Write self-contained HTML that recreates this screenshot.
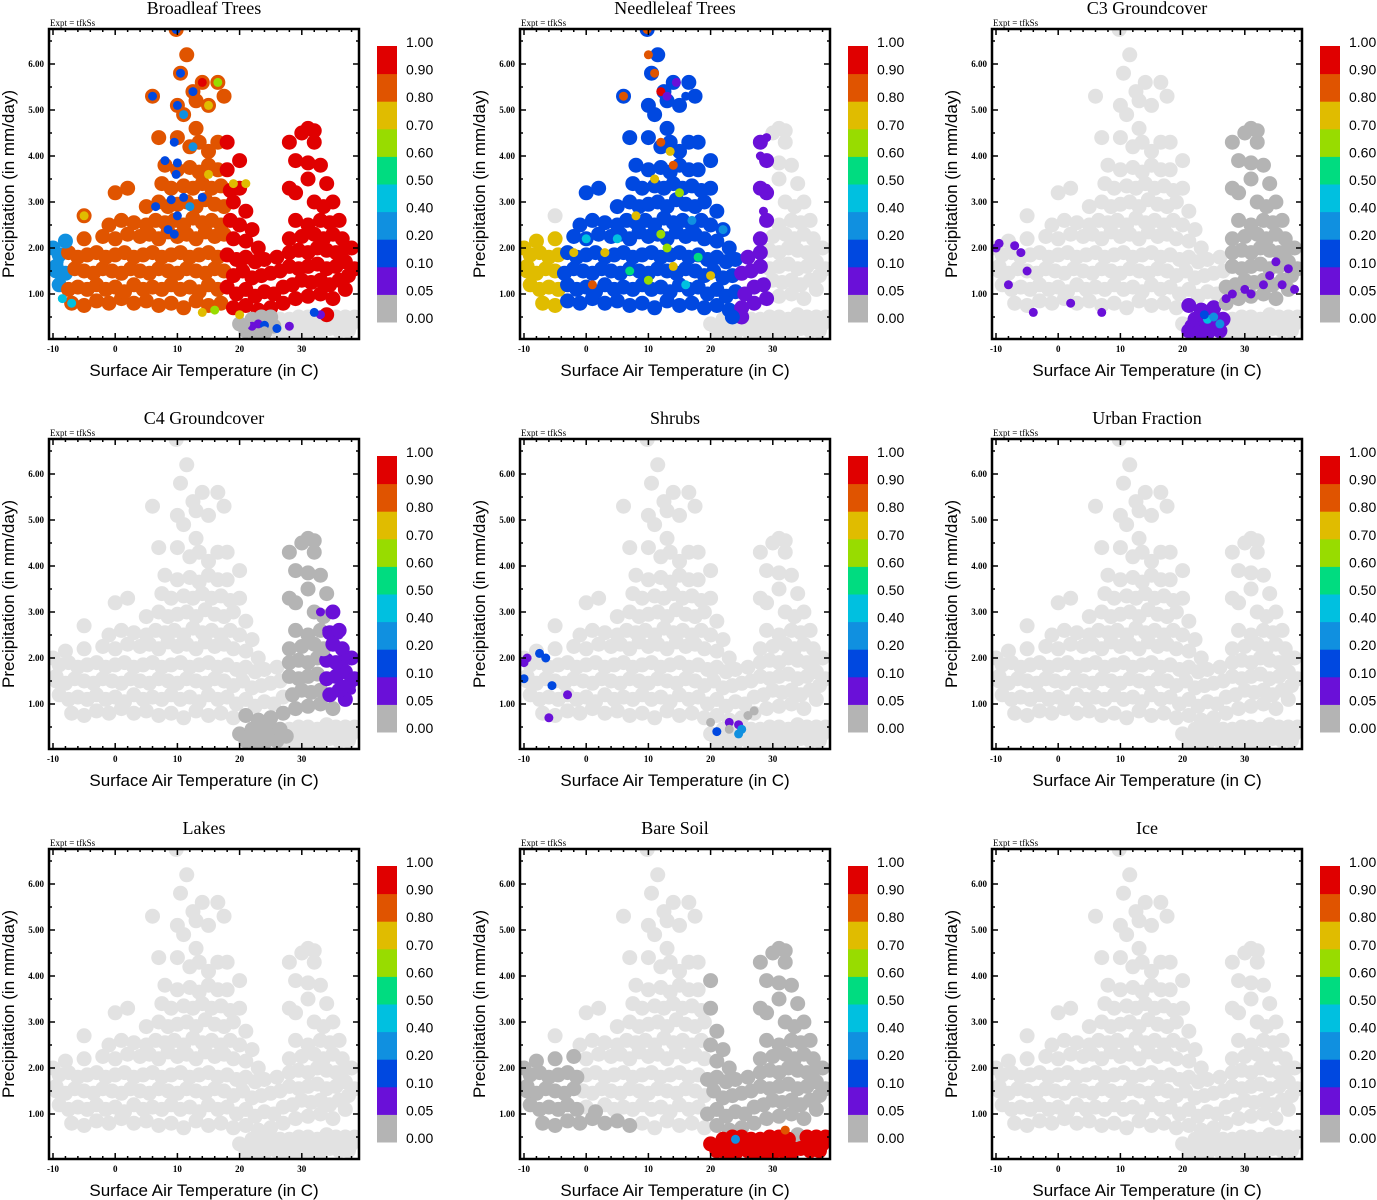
<!DOCTYPE html>
<html><head><meta charset="utf-8"><style>
body{margin:0;background:#fff}
svg{display:block}
.tk{font-family:"Liberation Serif",serif;font-weight:bold;font-size:9px}
.ttl{font-family:"Liberation Serif",serif;font-size:18px}
.ax{font-family:"Liberation Sans",sans-serif;font-size:17px}
.cb{font-family:"Liberation Sans",sans-serif;font-size:14px}
.ex{font-family:"Liberation Serif",serif;font-size:9px}
</style></head><body>
<svg id="chart" width="1377" height="1200" viewBox="0 0 1377 1200"></svg>
<script>
const panelTitles=["Broadleaf Trees","Needleleaf Trees","C3 Groundcover","C4 Groundcover","Shrubs","Urban Fraction","Lakes","Bare Soil","Ice"];
const xTicks=[-10,0,10,20,30];
const yTicks=[1,2,3,4,5,6];
const cbLabels=["0.00","0.05","0.10","0.20","0.40","0.50","0.60","0.70","0.80","0.90","1.00"];
const cbColors=["#b4b4b4","#6a10d8","#0048e0","#1090e0","#00c0e0","#00dc80","#98dc00","#e0bc00","#e05400","#e00000"];
const cbEdges=[0,0.05,0.1,0.2,0.4,0.5,0.6,0.7,0.8,0.9,1.0001];
const cloud=[
[-7,0.8],[-5,0.75],[-3,0.85],[-1,0.8],[1,0.9],[3,0.8],[5,0.85],[7,0.75],[9,0.8],[11,0.7],[13,0.85],[15,0.75],[17,0.8],[19,0.7],[21,0.75],[23,0.65],[25,0.7],[27,0.8],[29,0.9],[31,0.95],[33,1.0],[35,0.9],[37,1.1],
[-9,1.2],[-7.5,1.1],[-6,1.15],[-4.5,1.1],[-3,1.2],[-1.5,1.1],[0,1.15],[1.5,1.05],[3,1.2],[4.5,1.1],[6,1.15],[7.5,1.1],[9,1.2],[10.5,1.1],[12,1.15],[13.5,1.05],[15,1.2],[16.5,1.1],[18,1.15],[19.5,1.0],[21,1.1],[22.5,0.95],[24,1.05],[25.5,1.0],[27,1.15],[28.5,1.2],[30,1.3],[31.5,1.25],[33,1.3],[34.5,1.2],[36,1.3],[37.5,1.4],
[-9.5,1.5],[-8,1.45],[-6.5,1.55],[-5,1.5],[-3.5,1.45],[-2,1.55],[-0.5,1.5],[1,1.45],[2.5,1.55],[4,1.5],[5.5,1.45],[7,1.55],[8.5,1.5],[10,1.45],[11.5,1.55],[13,1.5],[14.5,1.45],[16,1.55],[17.5,1.5],[19,1.4],[20.5,1.5],[22,1.35],[23.5,1.4],[25,1.45],[26.5,1.5],[28,1.6],[29.5,1.55],[31,1.6],[32.5,1.65],[34,1.55],[35.5,1.6],[37,1.7],[38.5,1.55],
[-9,1.85],[-7.5,1.9],[-6,1.8],[-4.5,1.85],[-3,1.9],[-1.5,1.8],[0,1.85],[1.5,1.9],[3,1.8],[4.5,1.85],[6,1.9],[7.5,1.8],[9,1.85],[10.5,1.9],[12,1.8],[13.5,1.85],[15,1.9],[16.5,1.8],[18,1.85],[19.5,1.75],[21,1.8],[22.5,1.7],[24,1.75],[26,1.8],[28,1.9],[29.5,1.95],[31,1.9],[32.5,2.0],[34,1.95],[35.5,1.9],[37,2.0],
[-8,2.15],[-5,2.2],[-2,2.25],[0,2.2],[2,2.3],[4,2.25],[5.5,2.3],[7,2.2],[8.5,2.35],[10,2.25],[11.5,2.3],[13,2.2],[14.5,2.35],[16,2.25],[17.5,2.3],[19,2.2],[21,2.15],[23,2.0],[28,2.2],[30,2.25],[32,2.3],[33.5,2.2],[35,2.3],[36.5,2.2],[38,2.0],
[-1,2.5],[1,2.6],[3,2.55],[5,2.5],[6.5,2.6],[8,2.55],[9.5,2.6],[11,2.5],[12.5,2.65],[14,2.55],[15.5,2.6],[17,2.5],[18.5,2.6],[20,2.5],[22,2.4],[29,2.6],[31,2.5],[33,2.6],[34.5,2.55],[36,2.6],
[0,3.2],[2,3.3],[5,2.9],[7,3.0],[8.5,2.9],[10,2.95],[11.5,3.0],[13,2.9],[14.5,3.05],[16,2.95],[17.5,2.9],[19,3.0],[21,2.8],[29,3.2],[32,3.0],[33.5,2.9],[35,3.0],
[7.5,3.4],[9,3.3],[11,3.35],[12.5,3.3],[14,3.4],[15.5,3.3],[17,3.35],[18.5,3.25],[20,3.3],[28,3.3],[31,3.5],[34,3.4],
[8,3.8],[10,3.7],[12,3.75],[13.5,3.65],[15,3.8],[16.5,3.7],[18,3.7],[20,3.9],[29,3.9],[31,3.85],[33,3.8],
[7,4.4],[10,4.4],[12,4.2],[13.5,4.3],[15,4.1],[16.5,4.3],[18,4.3],[28,4.3],[30,4.5],[32,4.3],
[9.8,6.75],[11.5,6.2],[10.5,5.8],[14,5.6],[16.5,5.6],[17.5,5.3],[6,5.3],[12.5,5.4],[13,5.2],[15,5.1],[10,5.1],[11,4.9],[13,4.6],[31,4.6],[32,4.55],[-5,2.7],[-9.5,1.6],[-10,2.0],
[20,0.35],[21.5,0.3],[23,0.25],[24.5,0.35],[26,0.2],[27.5,0.3],[29,0.25],[30.5,0.35],[32,0.3],[33.5,0.4],[35,0.3],[36.5,0.45],[38,0.35],[22,0.45],[25,0.5],[28,0.45],[31,0.5],[34,0.55],[37,0.5],[24,0.15],[27,0.12],[30,0.15],[33,0.15],[36,0.2],
[21,0.2],[22.5,0.15],[25.5,0.3],[28.5,0.15],[31.5,0.2],[34.5,0.25],[37.5,0.2],[23.5,0.5],[26.5,0.45],[29.5,0.5],[32.5,0.45],[35.5,0.5],[38.5,0.5]
];
// zones: [tMin,tMax,pMin,pMax,fraction] (null = absent)
const zones1=[[-11,-7.5,0.5,2.6,0.3],[19.5,26,0,0.55,0],[26,40,0,0.55,null],[18,40,0.55,7,0.95],[-8,18,0.5,7,0.85]];
const zones2=[[-10.5,-3.5,0.5,2.5,0.75],[29.5,40,0,7,null],[19.5,40,0,0.5,null],[25,29.5,0.5,5,0.07],[-3.5,25,0.5,7,0.15]];
const zones3=[[27,40,0.8,5,0],[21,27.5,0.15,0.8,0.07]];
const zones4=[[34,40,1.0,3.1,0.07],[28,40,0.7,5,0],[20,28,0.15,0.9,0]];
const zones5=[];
const zones6=[];
const zones7=[];
const zones8=[[19.5,40,0,0.55,0.95],[-11,-0.5,0.55,2.4,0],[19.5,40,0.55,5,0],[-0.5,8,0.5,1.1,0]];
const zones9=[];
const extras1=[[6,5.3,0.15],[10,5.1,0.15],[12.5,5.4,0.15],[10.5,5.8,0.15],[11,4.9,0.3],[9.5,4.3,0.15],[8,3.9,0.15],[9.8,3.6,0.15],[10,3.85,0.15],[6.5,2.9,0.15],[9,3.05,0.15],[10,2.7,0.15],[11,3.1,0.15],[12,2.9,0.3],[12.5,4.2,0.3],[14,3.1,0.15],[9.5,2.3,0.15],[8.5,2.4,0.15],[-8,2.2,0.3],[-9,1.7,0.3],[-8.5,0.9,0.45],[-7,0.8,0.45],[9.8,6.75,0.15],[11.5,6.2,0.85],[14,5.6,0.95],[16.5,5.6,0.65],[15,5.1,0.75],[17.5,5.3,0.85],[-5,2.7,0.75],[15,3.6,0.75],[19,3.4,0.75],[21,3.4,0.75],[14,0.6,0.75],[16,0.65,0.65],[20,0.55,0.75],[22,0.3,0.07],[23,0.35,0.07],[24,0.32,0.15],[26,0.25,0.15],[28,0.3,0.07],[33,0.55,0.07],[32,0.6,0.15],[21,0.35,0],[24,0.2,0]];
const extras2=[[10,6.2,0.85],[11,5.8,0.85],[9.8,6.75,0.85],[6,5.3,0.85],[12,5.4,0.95],[13,5.3,0.07],[14.5,5.6,0.07],[16,5.3,0.15],[13,4.6,0.15],[12,4.3,0.85],[13.5,4.1,0.75],[14,3.8,0.85],[11,3.5,0.75],[15,3.2,0.65],[8,2.7,0.75],[12,2.3,0.65],[5,2.2,0.45],[3,1.9,0.75],[7,1.5,0.55],[10,1.3,0.65],[14,1.6,0.75],[16,1.2,0.45],[18,1.8,0.55],[20,1.4,0.75],[-2,1.9,0.75],[0,2.2,0.45],[1,1.2,0.85],[13,2.0,0.65],[17,2.6,0.3],[22,2.4,0.3],[29,4.4,0.07],[28,4.0,0.07],[29,3.3,0.07],[28.5,2.8,0.07]];
const extras3=[[-10,2.0,0.07],[-9.5,2.1,0.07],[-7,2.05,0.07],[-6,1.9,0.07],[-5,1.5,0.07],[-8,1.2,0.07],[-4,0.6,0.07],[2,0.8,0.07],[7,0.6,0.07],[24,0.45,0.45],[25,0.5,0.3],[23.5,0.55,0.15],[26,0.35,0.3],[27,0.9,0.07],[28,1.0,0.07],[30,1.1,0.07],[31,1.0,0.07],[33,1.2,0.07],[34,1.4,0.07],[35,1.7,0.07],[36,1.2,0.07],[38,1.1,0.07],[37,1.55,0.07]];
const extras4=[[33,3.0,0.07],[34,2.6,0.07],[36,2.5,0.07],[37,2.0,0.07],[38,1.3,0.07],[36,1.5,0.07]];
const extras5=[[-10,1.9,0.07],[-9.5,2.0,0.07],[-7.5,2.1,0.15],[-6.5,2.0,0.15],[-10,1.55,0.15],[-5.5,1.4,0.15],[-3,1.2,0.07],[-6,0.7,0.07],[23,0.6,0.07],[24.5,0.55,0.07],[25,0.45,0.3],[24.5,0.35,0.3],[21,0.4,0.15],[23,0.45,0],[26,0.75,0],[27,0.85,0],[20,0.6,0]];
const extras6=[],extras7=[],extras9=[];
const extras8=[[32,0.65,0.85],[24,0.45,0.3]];
const allZones=[zones1,zones2,zones3,zones4,zones5,zones6,zones7,zones8,zones9];
const allExtras=[extras1,extras2,extras3,extras4,extras5,extras6,extras7,extras8,extras9];

const NS="http://www.w3.org/2000/svg";
const svg=document.getElementById('chart');
function mk(tag,attrs,parent,text){const e=document.createElementNS(NS,tag);for(const k in attrs)e.setAttribute(k,attrs[k]);if(text!==undefined)e.textContent=text;parent.appendChild(e);return e;}
const L=49,R=359,T=29,B=339;
function xs(t){return 53+(t+10)*6.22;}
function ys(p){return 294-(p-1)*46;}
function colorFor(f){if(f===null)return "#e2e2e2";for(let i=0;i<10;i++){if(f<cbEdges[i+1])return cbColors[i];}return cbColors[9];}
function fracFor(zs,t,p){for(const z of zs){if(t>=z[0]&&t<z[1]&&p>=z[2]&&p<z[3])return z[4];}return null;}
const ox=[0,471,943],oy=[0,410,820];
for(let k=0;k<9;k++){
  const g=mk('g',{transform:`translate(${ox[k%3]},${oy[Math.floor(k/3)]})`},svg);
  
  
  const tt=mk('text',{x:204,y:14,'text-anchor':'middle',class:'ttl'},g,panelTitles[k]);
  
  
  const ex=mk('text',{x:50,y:26,class:'ex'},g,'Expt = tfkSs');
  
  
  const clip=mk('clipPath',{id:'c'+k},g);mk('rect',{x:L,y:T,width:R-L,height:B-T},clip);
  const pts=mk('g',{'clip-path':`url(#c${k})`},g);
  
  
  const zs=allZones[k];
  const absent=[],present=[];
  cloud.forEach(c=>{const f=fracFor(zs,c[0],c[1]);(f===null?absent:present).push([c[0],c[1],f]);});
  const draw=(arr,r)=>arr.forEach(d=>{const c=mk('circle',{cx:xs(d[0]),cy:ys(d[1]),r:r,fill:colorFor(d[2])},pts);});
  draw(absent,7.5);draw(present,7.5);draw(allExtras[k],4.5);
  const fr=mk('rect',{x:L,y:T,width:R-L,height:B-T,fill:'none',stroke:'#000','stroke-width':2.5},g);
  
  
  let tp='';
  for(let t=-10;t<=38;t+=2){const x=xs(t),len=(t%10===0)?6:3;tp+=`M${x},${B}v${-len}M${x},${T}v${len}`;}
  for(let p=0.5;p<=6.5;p+=0.5){const y=ys(p),len=(Math.abs(p-Math.round(p))<0.01)?6:3;tp+=`M${L},${y}h${len}M${R},${y}h${-len}`;}
  const tk=mk('path',{d:tp,stroke:'#000','stroke-width':1.5,fill:'none'},g);
  
  
  xTicks.forEach(t=>{const e=mk('text',{x:xs(t),y:352,'text-anchor':'middle',class:'tk'},g,String(t));});
  yTicks.forEach(p=>{const e=mk('text',{x:44,y:ys(p)+3,'text-anchor':'end',class:'tk'},g,p.toFixed(2));});
  const xt=mk('text',{x:204,y:376,'text-anchor':'middle',class:'ax'},g,'Surface Air Temperature (in C)');
  
  
  const yt=mk('text',{x:0,y:0,'text-anchor':'middle',class:'ax',transform:'translate(14,184) rotate(-90)'},g,'Precipitation (in mm/day)');
  
  
  const cb=mk('g',{},g);
  
  
  const h=27.6;
  cbColors.forEach((c,i)=>{const r=mk('rect',{x:377,y:46+(9-i)*h,width:20,height:h+0.5,fill:c},cb);});
  cbLabels.forEach((s,i)=>{const e=mk('text',{x:406,y:47+(10-i)*h,class:'cb'},cb,s);});
}
</script>
</body></html>
